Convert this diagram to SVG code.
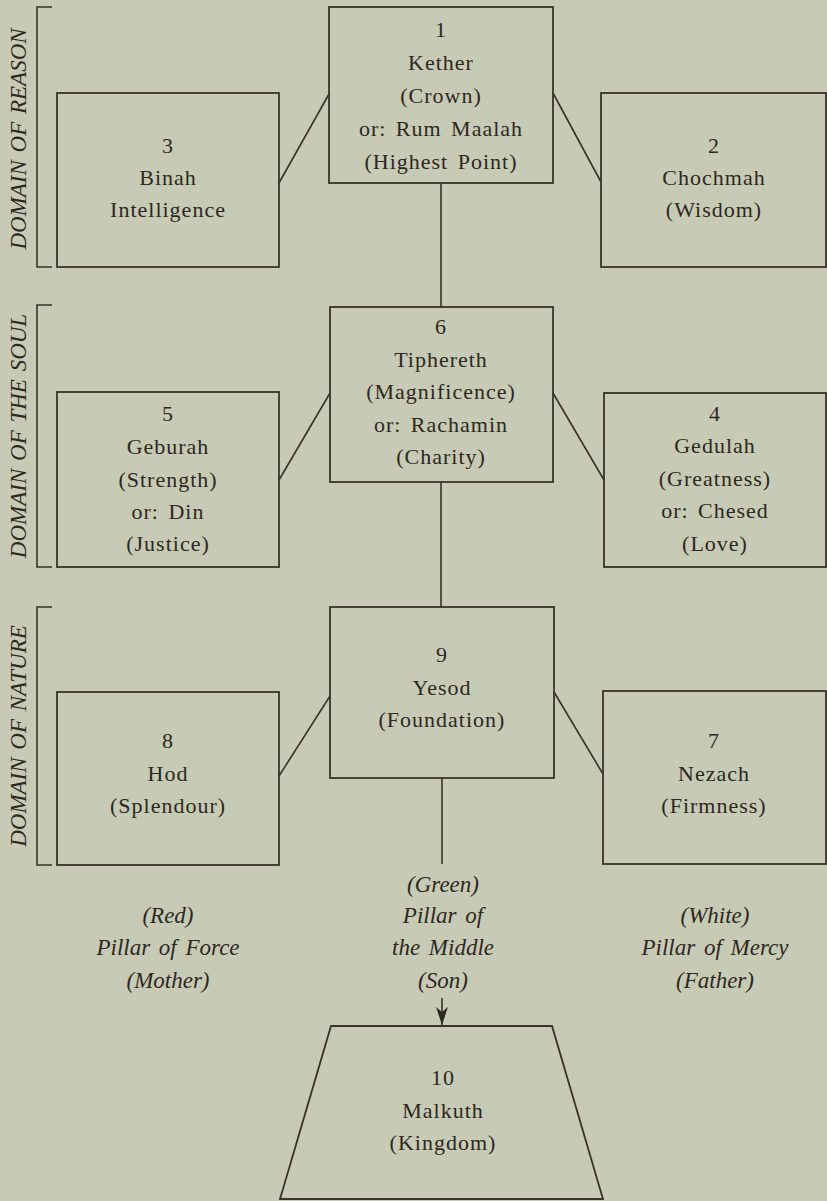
<svg xmlns="http://www.w3.org/2000/svg" width="827" height="1201" viewBox="0 0 827 1201">
  <defs>
    <style>
      .bg { fill: #c7cab4; }
      .box { fill: none; stroke: #3a322a; stroke-width: 1.8; }
      .ln { fill: none; stroke: #3a322a; stroke-width: 1.6; }
      .t { font-family: "Liberation Serif", "Times New Roman", serif; font-size: 22px; letter-spacing: 1px; word-spacing: 3px; fill: #2e2822; text-anchor: middle; }
      .it { font-family: "Liberation Serif", "Times New Roman", serif; font-style: italic; font-size: 23px; word-spacing: 3px; fill: #2e2822; text-anchor: middle; }
      .dom { font-family: "Liberation Serif", "Times New Roman", serif; font-style: italic; font-size: 23px; word-spacing: 2px; fill: #2e2822; text-anchor: middle; }
    </style>
    <marker id="arr" viewBox="0 0 18 12" refX="18" refY="6" markerWidth="18" markerHeight="12" markerUnits="userSpaceOnUse" orient="auto">
      <path d="M18,6 L0,0 L5,6 L0,12 Z" fill="#2e2822"/>
    </marker>
  </defs>

  <rect class="bg" x="0" y="0" width="827" height="1201"/>

  <g id="domains">
    <g id="domain-reason">
      <path class="ln" d="M52,7 H37 V267 H52"/>
      <text class="dom" transform="translate(26,139) rotate(-90)">DOMAIN OF REASON</text>
    </g>
    <g id="domain-soul">
      <path class="ln" d="M52,305 H37 V567 H52"/>
      <text class="dom" transform="translate(26,436) rotate(-90)">DOMAIN OF THE SOUL</text>
    </g>
    <g id="domain-nature">
      <path class="ln" d="M52,607 H37 V865 H52"/>
      <text class="dom" transform="translate(26,736) rotate(-90)">DOMAIN OF NATURE</text>
    </g>
  </g>

  <g id="connectors">
    <line class="ln" x1="279" y1="183" x2="329" y2="94"/>
    <line class="ln" x1="553" y1="93" x2="601" y2="182"/>
    <line class="ln" x1="441" y1="183" x2="441" y2="307"/>
    <line class="ln" x1="279" y1="480" x2="330" y2="393"/>
    <line class="ln" x1="553" y1="393" x2="604" y2="480"/>
    <line class="ln" x1="441" y1="482" x2="441" y2="607"/>
    <line class="ln" x1="279" y1="776" x2="330" y2="696"/>
    <line class="ln" x1="554" y1="692" x2="603" y2="774"/>
    <line class="ln" x1="442" y1="778" x2="442" y2="864"/>
    <line class="ln" x1="442" y1="998" x2="442" y2="1025" marker-end="url(#arr)"/>
  </g>

  <g id="node-1">
    <rect class="box" x="329" y="7" width="224" height="176"/>
    <text class="t" x="441" y="37">1</text>
    <text class="t" x="441" y="70">Kether</text>
    <text class="t" x="441" y="103">(Crown)</text>
    <text class="t" x="441" y="136">or: Rum Maalah</text>
    <text class="t" x="441" y="169">(Highest Point)</text>
  </g>

  <g id="node-3">
    <rect class="box" x="57" y="93" width="222" height="174"/>
    <text class="t" x="168" y="153">3</text>
    <text class="t" x="168" y="185">Binah</text>
    <text class="t" x="168" y="217">Intelligence</text>
  </g>

  <g id="node-2">
    <rect class="box" x="601" y="93" width="225" height="174"/>
    <text class="t" x="714" y="153">2</text>
    <text class="t" x="714" y="185">Chochmah</text>
    <text class="t" x="714" y="217">(Wisdom)</text>
  </g>

  <g id="node-6">
    <rect class="box" x="330" y="307" width="223" height="175"/>
    <text class="t" x="441" y="334">6</text>
    <text class="t" x="441" y="366.5">Tiphereth</text>
    <text class="t" x="441" y="399">(Magnificence)</text>
    <text class="t" x="441" y="431.5">or: Rachamin</text>
    <text class="t" x="441" y="464">(Charity)</text>
  </g>

  <g id="node-5">
    <rect class="box" x="57" y="392" width="222" height="175"/>
    <text class="t" x="168" y="421">5</text>
    <text class="t" x="168" y="454">Geburah</text>
    <text class="t" x="168" y="486.5">(Strength)</text>
    <text class="t" x="168" y="518.5">or:  Din</text>
    <text class="t" x="168" y="551">(Justice)</text>
  </g>

  <g id="node-4">
    <rect class="box" x="604" y="393" width="222" height="174"/>
    <text class="t" x="715" y="421">4</text>
    <text class="t" x="715" y="453">Gedulah</text>
    <text class="t" x="715" y="485.5">(Greatness)</text>
    <text class="t" x="715" y="518">or:  Chesed</text>
    <text class="t" x="715" y="550.5">(Love)</text>
  </g>

  <g id="node-9">
    <rect class="box" x="330" y="607" width="224" height="171"/>
    <text class="t" x="442" y="662">9</text>
    <text class="t" x="442" y="694.5">Yesod</text>
    <text class="t" x="442" y="727">(Foundation)</text>
  </g>

  <g id="node-8">
    <rect class="box" x="57" y="692" width="222" height="173"/>
    <text class="t" x="168" y="748">8</text>
    <text class="t" x="168" y="780.5">Hod</text>
    <text class="t" x="168" y="813">(Splendour)</text>
  </g>

  <g id="node-7">
    <rect class="box" x="603" y="691" width="223" height="173"/>
    <text class="t" x="714" y="748">7</text>
    <text class="t" x="714" y="780.5">Nezach</text>
    <text class="t" x="714" y="813">(Firmness)</text>
  </g>

  <g id="pillar-force">
    <text class="it" x="168" y="923">(Red)</text>
    <text class="it" x="168" y="955">Pillar of Force</text>
    <text class="it" x="168" y="988">(Mother)</text>
  </g>

  <g id="pillar-middle">
    <text class="it" x="443" y="892">(Green)</text>
    <text class="it" x="443" y="923">Pillar of</text>
    <text class="it" x="443" y="955">the Middle</text>
    <text class="it" x="443" y="988">(Son)</text>
  </g>

  <g id="pillar-mercy">
    <text class="it" x="715" y="923">(White)</text>
    <text class="it" x="715" y="955">Pillar of Mercy</text>
    <text class="it" x="715" y="988">(Father)</text>
  </g>

  <g id="node-10">
    <polygon class="box" points="331,1026 552,1026 603,1199 280,1199"/>
    <text class="t" x="443" y="1085">10</text>
    <text class="t" x="443" y="1117.5">Malkuth</text>
    <text class="t" x="443" y="1150">(Kingdom)</text>
  </g>
</svg>
